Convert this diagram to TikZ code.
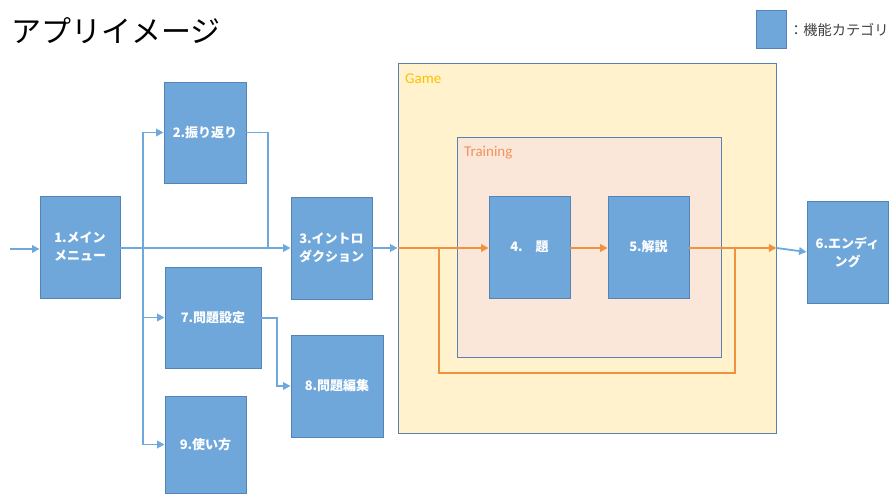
\documentclass[tikz,border=0pt]{standalone}
\usepackage{fontspec}
\setmainfont{Carlito}
\newfontfamily\cjk{Noto Sans CJK JP}
\usetikzlibrary{arrows.meta}
\definecolor{boxfill}{HTML}{6FA7DB}
\definecolor{boxline}{HTML}{5683B5}
\definecolor{lineblue}{HTML}{6FA8DC}
\definecolor{lineorange}{HTML}{F0913F}
\definecolor{gamefill}{HTML}{FFF2CC}
\definecolor{gametext}{HTML}{FFC000}
\definecolor{trainfill}{HTML}{FBE6DA}
\definecolor{traintext}{HTML}{F0935A}
\definecolor{contline}{HTML}{5B82AE}
\tikzset{
  fbox/.style={draw=boxline, line width=0.9pt, fill=boxfill, inner sep=0pt,
    text=white, font=\cjk\bfseries\fontsize{13}{18}\selectfont, align=center},
  cont/.style={draw=contline, line width=0.9pt, inner sep=0pt},
  bl/.style={draw=lineblue, line width=1.8pt},
  ol/.style={draw=lineorange, line width=1.8pt},
  tip/.style={-{Triangle[length=7.5pt,width=7.5pt]}},
}
\begin{document}
\begin{tikzpicture}[x=1pt,y=-1pt]
\useasboundingbox (0,0) rectangle (892,494);
% title and legend
\node[anchor=west, inner sep=0pt, font=\cjk\fontsize{30}{32}\selectfont] (title) at (11,31) {アプリイメージ};
\node[fbox, minimum width=30pt, minimum height=38pt] (leg) at (771,29) {};
\node[anchor=west, inner sep=0pt, font=\cjk\fontsize{14.2}{17}\selectfont, text=black!75] (legt) at (789,30) {：機能カテゴリ};
% containers
\node[cont, fill=gamefill, minimum width=378pt, minimum height=370pt] (game) at (587,248) {};
\node[anchor=west, inner sep=0pt, text=gametext, font=\fontsize{15}{17}\selectfont] (gamet) at (405,79) {Game};
\node[cont, fill=trainfill, minimum width=264pt, minimum height=220pt] (train) at (589,247) {};
\node[anchor=west, inner sep=0pt, text=traintext, font=\fontsize{15}{17}\selectfont] (traint) at (464,153) {Training};
% boxes
\node[fbox, minimum width=80pt, minimum height=102pt] (b1) at (80,247) {1.メイン\\メニュー};
\node[fbox, minimum width=82pt, minimum height=101pt] (b2) at (205,132.5) {2.振り返り};
\node[fbox, minimum width=81pt, minimum height=102pt] (b3) at (331.5,248) {3.イントロ\\ダクション};
\node[fbox, minimum width=81pt, minimum height=102pt] (b4) at (529.5,247) {4.　題};
\node[fbox, minimum width=81pt, minimum height=102pt] (b5) at (648.5,247) {5.解説};
\node[fbox, minimum width=81pt, minimum height=102pt] (b6) at (847.5,252) {6.エンディ\\ング};
\node[fbox, minimum width=96pt, minimum height=101pt] (b7) at (213,317.5) {7.問題設定};
\node[fbox, minimum width=92pt, minimum height=102pt] (b8) at (337,386) {8.問題編集};
\node[fbox, minimum width=81pt, minimum height=97pt] (b9) at (205.5,444.5) {9.使い方};
% coordinates
\coordinate (in) at (10,249);
\coordinate (sp) at (143,248);
\coordinate (j2) at (268,248);
\coordinate (j7) at (277,318);
\coordinate (gin) at (game.west |- 0,248);
\coordinate (gout) at (game.east |- 0,248);
\coordinate (lpa) at (439,248);
\coordinate (lpb) at (735,248);
\coordinate (lpc) at (735,373);
% blue connectors
\draw[bl, tip] (in) -- (b1.west |- in);
\draw[bl, tip] (b1.east |- 0,248) -- (b3.west);
\draw[bl] (sp |- b2.west) -- (sp |- b9.west);
\draw[bl, tip] (sp |- b2.west) -- (b2.west);
\draw[bl, tip] (sp |- b7.west) -- (b7.west);
\draw[bl, tip] (sp |- b9.west) -- (b9.west);
\draw[bl] (b2.east) -| (j2);
\draw[bl, tip] (b7.east |- j7) -- (j7) |- (b8.west);
\draw[bl, tip] (b3.east) -- (gin);
\draw[bl, tip] (gout) -- (b6.west);
% orange connectors
\draw[ol, tip] (gin) -- (b4.west |- gin);
\draw[ol, tip] (b4.east |- gin) -- (b5.west |- gin);
\draw[ol, tip] (b5.east |- gin) -- (gout);
\draw[ol] (lpa) |- (lpc) -- (lpb);
\end{tikzpicture}
\end{document}
